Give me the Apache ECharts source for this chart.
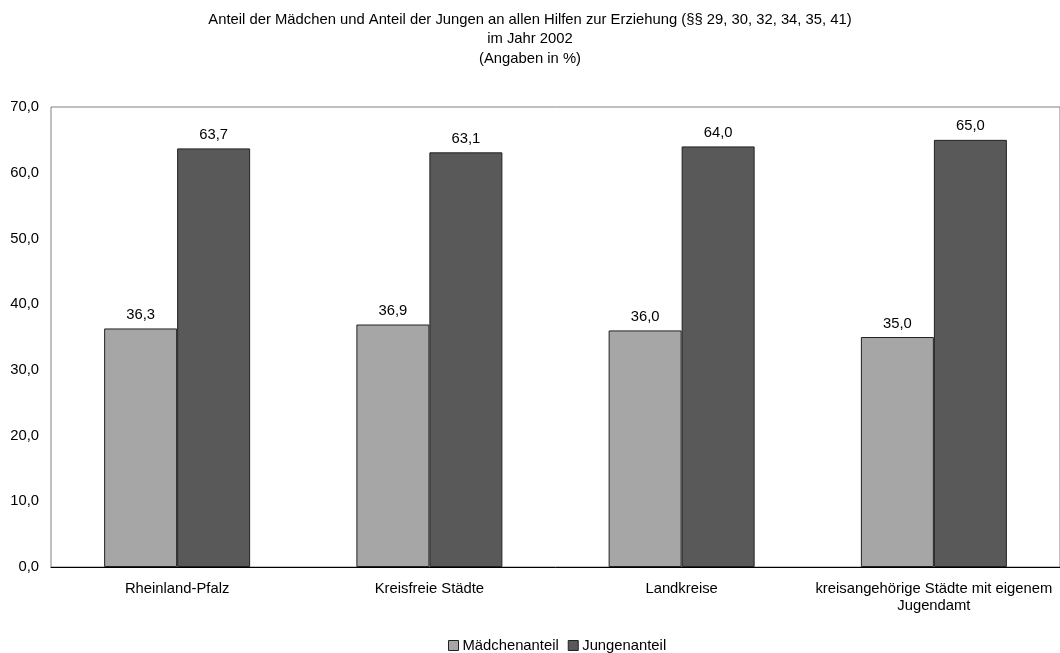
<!DOCTYPE html>
<html>
<head>
<meta charset="utf-8">
<script src="https://cdn.jsdelivr.net/npm/echarts@6/dist/echarts.min.js"></script>
<style>
html,body{margin:0;padding:0;background:#fff;}
#chart{width:1060px;height:653px;}
</style>
</head>
<body>
<div id="chart"></div>
<script>
const categories = ['Rheinland-Pfalz', 'Kreisfreie Städte', 'Landkreise', 'kreisangehörige Städte mit eigenem\nJugendamt'];
const maedchen = [36.3, 36.9, 36.0, 35.0];
const jungen = [63.7, 63.1, 64.0, 65.0];
const seriesNames = ['Mädchenanteil', 'Jungenanteil'];
const titleLines = [
  'Anteil der Mädchen und Anteil der Jungen an allen Hilfen zur Erziehung (§§ 29, 30, 32, 34, 35, 41)',
  'im Jahr 2002',
  '(Angaben in %)'
];

const FONT = '"Liberation Sans", Arial, sans-serif';
const FS = 14.8;
const fmt = v => v.toFixed(1).replace('.', ',');

const chart = echarts.init(document.getElementById('chart'), null, {renderer: 'canvas'});
chart.setOption({
  animation: false,
  backgroundColor: '#ffffff',
  title: {
    text: titleLines.join('\n'),
    left: 'center',
    top: 10,
    padding: 0,
    textStyle: {fontFamily: FONT, fontSize: FS, fontWeight: 'normal', color: '#000', lineHeight: 19.5}
  },
  legend: {
    data: seriesNames,
    bottom: 0,
    left: 448,
    padding: 0,
    icon: 'rect',
    itemWidth: 10,
    itemHeight: 10,
    itemGap: 9,
    itemStyle: {borderColor: '#222', borderWidth: 1},
    textStyle: {fontFamily: FONT, fontSize: FS, color: '#000', padding: [0, 0, 0, -1]}
  },
  grid: {
    left: 51,
    right: -5,
    top: 107,
    bottom: 86,
    show: true,
    borderColor: '#808080',
    borderWidth: 1,
    containLabel: false
  },
  xAxis: {
    type: 'category',
    data: categories,
    axisLine: {lineStyle: {color: '#000', width: 1}},
    axisTick: {show: false},
    axisLabel: {fontFamily: FONT, fontSize: FS, color: '#000', margin: 13, lineHeight: 17, interval: 0}
  },
  yAxis: {
    type: 'value',
    min: 0,
    max: 70,
    interval: 10,
    axisLine: {show: false},
    axisTick: {show: false},
    splitLine: {show: false},
    axisLabel: {fontFamily: FONT, fontSize: FS, color: '#000', margin: 12, formatter: v => fmt(v)}
  },
  series: [
    {
      name: seriesNames[0],
      type: 'bar',
      data: maedchen,
      barWidth: 73,
      barGap: '0%',
      itemStyle: {color: '#a6a6a6', borderColor: '#222', borderWidth: 1},
      label: {show: true, position: 'top', distance: 6, fontFamily: FONT, fontSize: FS, color: '#000', formatter: p => fmt(p.value)}
    },
    {
      name: seriesNames[1],
      type: 'bar',
      data: jungen,
      barWidth: 73,
      barGap: '0%',
      itemStyle: {color: '#595959', borderColor: '#222', borderWidth: 1},
      label: {show: true, position: 'top', distance: 6, fontFamily: FONT, fontSize: FS, color: '#000', formatter: p => fmt(p.value)}
    }
  ]
});
</script>
</body>
</html>
